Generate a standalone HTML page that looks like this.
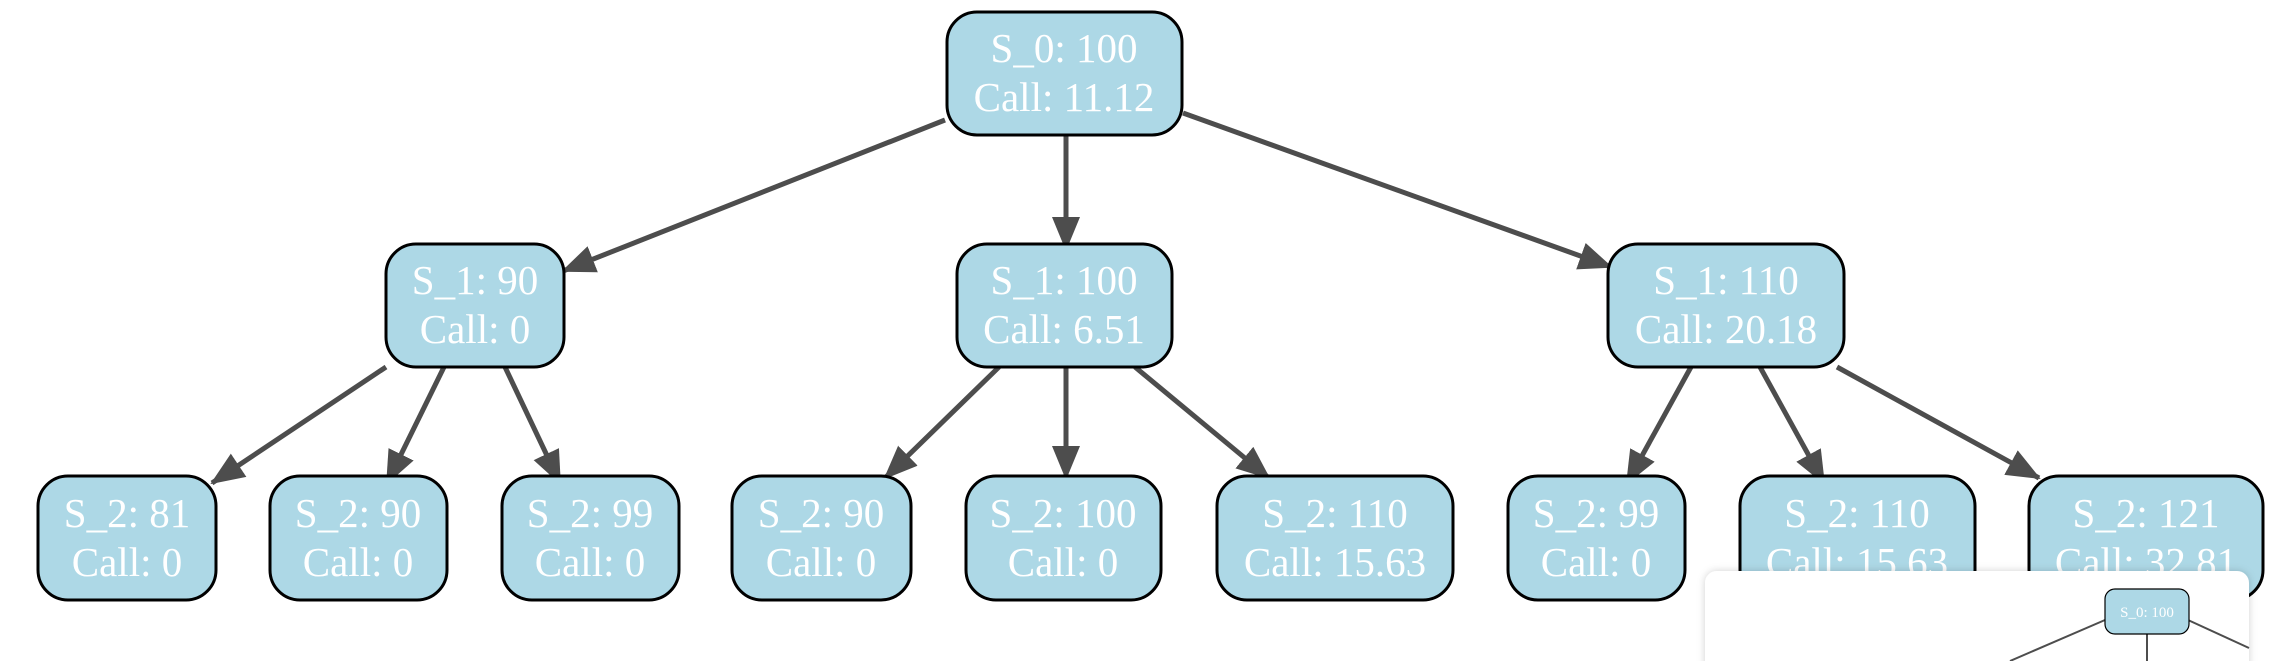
<!DOCTYPE html>
<html><head><meta charset="utf-8"><style>
html,body{margin:0;padding:0;background:#fff;width:2274px;height:661px;overflow:hidden}
svg{display:block}
text{font-family:"Liberation Serif",serif;fill:#fff;font-size:41px;text-anchor:middle}
</style></head><body>
<svg width="2274" height="661" viewBox="0 0 2274 661">
<defs>
<marker id="a" markerUnits="userSpaceOnUse" markerWidth="34" markerHeight="28" refX="32" refY="14" orient="auto">
<path d="M0,0 L34,14 L0,28 Z" fill="#4d4d4d"/>
</marker>
<filter id="sh" x="-10%" y="-50%" width="120%" height="200%"><feDropShadow dx="0" dy="0" stdDeviation="4" flood-color="#000" flood-opacity="0.18"/></filter>
</defs>
<g stroke="#4d4d4d" stroke-width="5" fill="none" marker-end="url(#a)">
<line x1="945" y1="120" x2="563" y2="271"/>
<line x1="1066" y1="135" x2="1066" y2="249"/>
<line x1="1183" y1="113" x2="1611" y2="267"/>
<line x1="386" y1="367" x2="212" y2="483"/>
<line x1="444" y1="367" x2="387" y2="483"/>
<line x1="505" y1="367" x2="560" y2="483"/>
<line x1="999" y1="367" x2="885" y2="478"/>
<line x1="1066" y1="367" x2="1066" y2="478"/>
<line x1="1135" y1="367" x2="1269" y2="478"/>
<line x1="1691" y1="367" x2="1627" y2="483"/>
<line x1="1760" y1="367" x2="1824" y2="483"/>
<line x1="1837" y1="367" x2="2039" y2="478"/>
</g>
<g fill="#add8e6" stroke="#000" stroke-width="3">
<rect x="947" y="12" width="235" height="123" rx="30"/>
<rect x="386" y="244" width="178" height="123" rx="30"/>
<rect x="957" y="244" width="215" height="123" rx="30"/>
<rect x="1608" y="244" width="236" height="123" rx="30"/>
<rect x="38" y="476" width="178" height="124" rx="30"/>
<rect x="270" y="476" width="177" height="124" rx="30"/>
<rect x="502" y="476" width="177" height="124" rx="30"/>
<rect x="732" y="476" width="179" height="124" rx="30"/>
<rect x="966" y="476" width="195" height="124" rx="30"/>
<rect x="1217" y="476" width="236" height="124" rx="30"/>
<rect x="1508" y="476" width="177" height="124" rx="30"/>
<rect x="1740" y="476" width="235" height="124" rx="30"/>
<rect x="2029" y="476" width="234" height="124" rx="30"/>
</g>
<g>
<text x="1064" y="62">S_0: 100</text><text x="1064" y="111">Call: 11.12</text>
<text x="475" y="294">S_1: 90</text><text x="475" y="343">Call: 0</text>
<text x="1064" y="294">S_1: 100</text><text x="1064" y="343">Call: 6.51</text>
<text x="1726" y="294">S_1: 110</text><text x="1726" y="343">Call: 20.18</text>
<text x="127" y="527">S_2: 81</text><text x="127" y="576">Call: 0</text>
<text x="358" y="527">S_2: 90</text><text x="358" y="576">Call: 0</text>
<text x="590" y="527">S_2: 99</text><text x="590" y="576">Call: 0</text>
<text x="821" y="527">S_2: 90</text><text x="821" y="576">Call: 0</text>
<text x="1063" y="527">S_2: 100</text><text x="1063" y="576">Call: 0</text>
<text x="1335" y="527">S_2: 110</text><text x="1335" y="576">Call: 15.63</text>
<text x="1596" y="527">S_2: 99</text><text x="1596" y="576">Call: 0</text>
<text x="1857" y="527">S_2: 110</text><text x="1857" y="576">Call: 15.63</text>
<text x="2146" y="527">S_2: 121</text><text x="2146" y="576">Call: 32.81</text>
</g>
<rect x="1705" y="571" width="544" height="110" rx="12" fill="#fff" filter="url(#sh)"/>
<g stroke="#4d4d4d" stroke-width="2">
<line x1="2105" y1="620" x2="2010" y2="661"/>
<line x1="2147" y1="634" x2="2147" y2="661"/>
<line x1="2188" y1="620" x2="2249" y2="648"/>
</g>
<rect x="2105" y="589" width="84" height="45" rx="10" fill="#add8e6" stroke="#000" stroke-width="1.2"/>
<text x="2147" y="617" style="font-size:15px">S_0: 100</text>
</svg>
</body></html>
